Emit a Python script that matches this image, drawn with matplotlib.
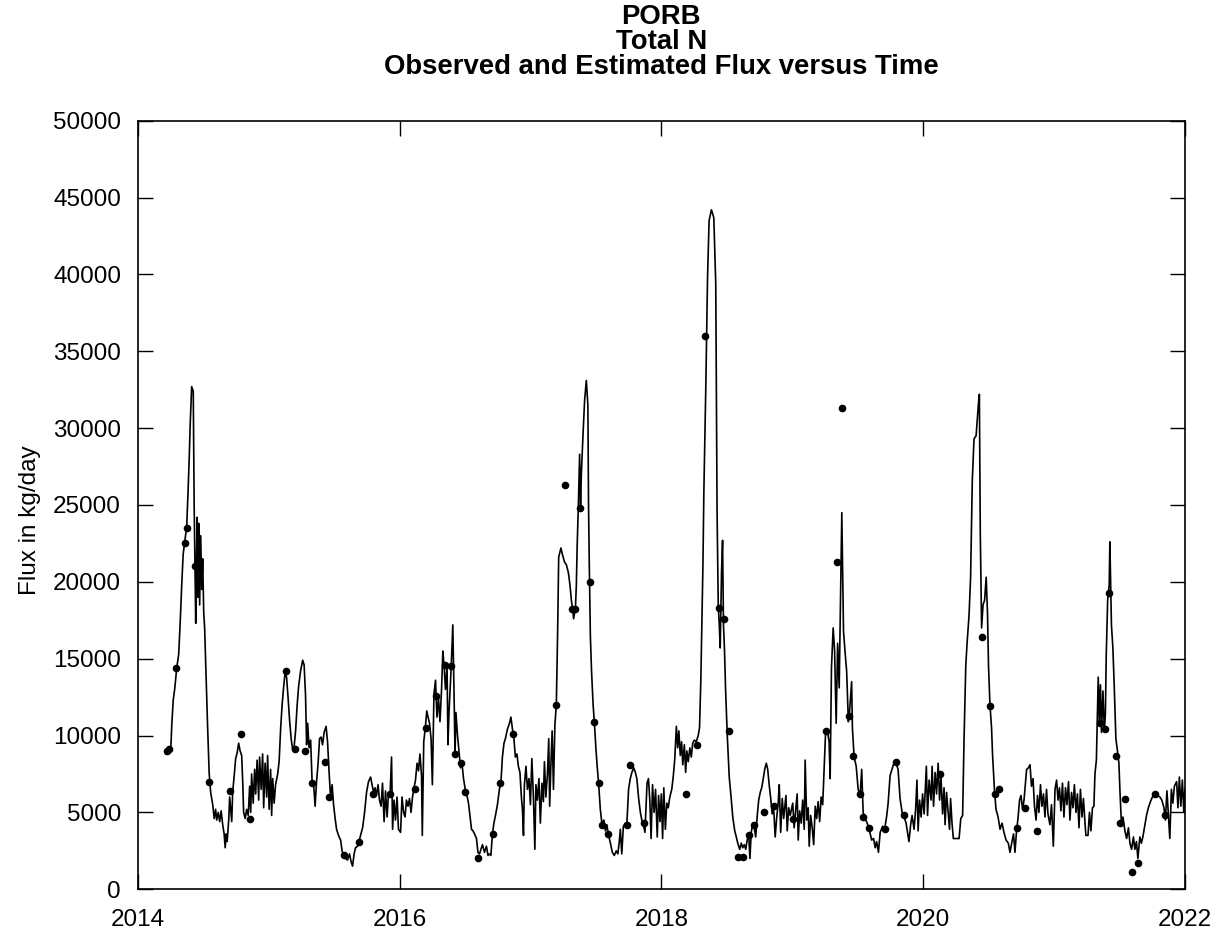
import matplotlib
matplotlib.use("Agg")
import matplotlib.pyplot as plt

plt.rcParams['font.family'] = ['Liberation Sans', 'DejaVu Sans']

# estimated daily flux (decimal year, kg/day)
est_years = [
    2014.214, 2014.229, 2014.244, 2014.252, 2014.260, 2014.271, 2014.282, 2014.298, 2014.313, 2014.324,
    2014.336, 2014.347, 2014.359, 2014.374, 2014.385, 2014.393, 2014.401, 2014.412, 2014.424, 2014.431,
    2014.437, 2014.443, 2014.448, 2014.454, 2014.460, 2014.466, 2014.473, 2014.481, 2014.489, 2014.496,
    2014.504, 2014.511, 2014.523, 2014.534, 2014.546, 2014.557, 2014.573, 2014.584, 2014.595, 2014.603,
    2014.615, 2014.626, 2014.637, 2014.649, 2014.660, 2014.668, 2014.676, 2014.683, 2014.695, 2014.702,
    2014.710, 2014.718, 2014.725, 2014.737, 2014.748, 2014.760, 2014.771, 2014.782, 2014.794, 2014.802,
    2014.809, 2014.821, 2014.832, 2014.844, 2014.855, 2014.863, 2014.870, 2014.882, 2014.893, 2014.901,
    2014.912, 2014.924, 2014.931, 2014.943, 2014.954, 2014.962, 2014.973, 2014.985, 2014.992, 2015.004,
    2015.015, 2015.023, 2015.031, 2015.042, 2015.053, 2015.069, 2015.080, 2015.092, 2015.103, 2015.115,
    2015.126, 2015.137, 2015.149, 2015.160, 2015.172, 2015.183, 2015.195, 2015.206, 2015.218, 2015.229,
    2015.244, 2015.260, 2015.271, 2015.282, 2015.290, 2015.298, 2015.309, 2015.321, 2015.332, 2015.344,
    2015.355, 2015.366, 2015.378, 2015.389, 2015.401, 2015.412, 2015.424, 2015.439, 2015.450, 2015.462,
    2015.473, 2015.485, 2015.496, 2015.508, 2015.519, 2015.534, 2015.550, 2015.561, 2015.573, 2015.588,
    2015.603, 2015.618, 2015.630, 2015.641, 2015.653, 2015.664, 2015.679, 2015.691, 2015.702, 2015.718,
    2015.733, 2015.748, 2015.763, 2015.779, 2015.790, 2015.802, 2015.813, 2015.824, 2015.836, 2015.847,
    2015.859, 2015.870, 2015.882, 2015.893, 2015.905, 2015.916, 2015.927, 2015.939, 2015.947, 2015.958,
    2015.969, 2015.981, 2015.992, 2016.008, 2016.019, 2016.031, 2016.042, 2016.053, 2016.065, 2016.076,
    2016.088, 2016.099, 2016.111, 2016.122, 2016.134, 2016.145, 2016.156, 2016.168, 2016.174, 2016.179,
    2016.185, 2016.197, 2016.208, 2016.218, 2016.229, 2016.241, 2016.251, 2016.258, 2016.263, 2016.275,
    2016.286, 2016.298, 2016.309, 2016.321, 2016.331, 2016.340, 2016.351, 2016.363, 2016.370, 2016.378,
    2016.395, 2016.407, 2016.416, 2016.424, 2016.431, 2016.443, 2016.454, 2016.466, 2016.477, 2016.489,
    2016.504, 2016.515, 2016.527, 2016.538, 2016.550, 2016.561, 2016.573, 2016.588, 2016.599, 2016.611,
    2016.622, 2016.634, 2016.649, 2016.664, 2016.676, 2016.687, 2016.698, 2016.710, 2016.721, 2016.733,
    2016.748, 2016.763, 2016.775, 2016.786, 2016.798, 2016.809, 2016.824, 2016.840, 2016.851, 2016.863,
    2016.874, 2016.885, 2016.897, 2016.908, 2016.920, 2016.931, 2016.939, 2016.947, 2016.954, 2016.966,
    2016.977, 2016.989, 2017.000, 2017.011, 2017.023, 2017.034, 2017.042, 2017.053, 2017.065, 2017.076,
    2017.088, 2017.099, 2017.107, 2017.118, 2017.130, 2017.140, 2017.147, 2017.156, 2017.166, 2017.176,
    2017.187, 2017.198, 2017.208, 2017.216, 2017.233, 2017.244, 2017.260, 2017.275, 2017.290, 2017.302,
    2017.313, 2017.324, 2017.330, 2017.344, 2017.351, 2017.357, 2017.366, 2017.376, 2017.383, 2017.389,
    2017.402, 2017.414, 2017.427, 2017.439, 2017.444, 2017.450, 2017.458, 2017.467, 2017.479, 2017.489,
    2017.500, 2017.510, 2017.521, 2017.534, 2017.547, 2017.561, 2017.573, 2017.584, 2017.595, 2017.611,
    2017.626, 2017.641, 2017.656, 2017.668, 2017.679, 2017.687, 2017.698, 2017.710, 2017.725, 2017.737,
    2017.750, 2017.763, 2017.775, 2017.789, 2017.802, 2017.813, 2017.827, 2017.840, 2017.851, 2017.863,
    2017.875, 2017.891, 2017.902, 2017.912, 2017.922, 2017.933, 2017.945, 2017.956, 2017.969, 2017.979,
    2017.990, 2018.000, 2018.010, 2018.019, 2018.031, 2018.042, 2018.053, 2018.065, 2018.080, 2018.092,
    2018.103, 2018.115, 2018.125, 2018.134, 2018.145, 2018.155, 2018.164, 2018.176, 2018.186, 2018.195,
    2018.206, 2018.218, 2018.229, 2018.240, 2018.252, 2018.267, 2018.282, 2018.292, 2018.302, 2018.318,
    2018.325, 2018.340, 2018.353, 2018.365, 2018.383, 2018.401, 2018.416, 2018.426, 2018.435, 2018.443,
    2018.450, 2018.460, 2018.468, 2018.475, 2018.483, 2018.491, 2018.504, 2018.519, 2018.532, 2018.546,
    2018.561, 2018.573, 2018.584, 2018.599, 2018.611, 2018.622, 2018.634, 2018.645, 2018.656, 2018.668,
    2018.677, 2018.687, 2018.699, 2018.710, 2018.721, 2018.733, 2018.744, 2018.756, 2018.767, 2018.779,
    2018.790, 2018.802, 2018.813, 2018.824, 2018.836, 2018.847, 2018.859, 2018.870, 2018.882, 2018.893,
    2018.901, 2018.912, 2018.924, 2018.935, 2018.952, 2018.962, 2018.973, 2018.985, 2019.004, 2019.015,
    2019.027, 2019.038, 2019.046, 2019.057, 2019.069, 2019.080, 2019.092, 2019.099, 2019.111, 2019.122,
    2019.130, 2019.141, 2019.153, 2019.164, 2019.176, 2019.187, 2019.198, 2019.210, 2019.221, 2019.233,
    2019.244, 2019.256, 2019.271, 2019.282, 2019.290, 2019.300, 2019.313, 2019.324, 2019.336, 2019.347,
    2019.359, 2019.370, 2019.379, 2019.387, 2019.392, 2019.405, 2019.416, 2019.429, 2019.437, 2019.454,
    2019.460, 2019.473, 2019.489, 2019.504, 2019.519, 2019.531, 2019.542, 2019.557, 2019.573, 2019.588,
    2019.607, 2019.622, 2019.634, 2019.645, 2019.659, 2019.672, 2019.691, 2019.706, 2019.721, 2019.733,
    2019.748, 2019.773, 2019.790, 2019.809, 2019.824, 2019.840, 2019.855, 2019.870, 2019.892, 2019.905,
    2019.916, 2019.931, 2019.943, 2019.953, 2019.962, 2019.973, 2019.985, 2019.996, 2020.008, 2020.025,
    2020.034, 2020.046, 2020.061, 2020.069, 2020.080, 2020.092, 2020.103, 2020.115, 2020.126, 2020.137,
    2020.149, 2020.160, 2020.168, 2020.179, 2020.191, 2020.202, 2020.210, 2020.221, 2020.231, 2020.244,
    2020.260, 2020.275, 2020.288, 2020.302, 2020.313, 2020.326, 2020.336, 2020.351, 2020.363, 2020.376,
    2020.389, 2020.405, 2020.422, 2020.430, 2020.437, 2020.447, 2020.458, 2020.470, 2020.482, 2020.492,
    2020.500, 2020.511, 2020.523, 2020.531, 2020.545, 2020.557, 2020.573, 2020.588, 2020.603, 2020.618,
    2020.634, 2020.651, 2020.664, 2020.679, 2020.691, 2020.702, 2020.714, 2020.725, 2020.737, 2020.748,
    2020.760, 2020.771, 2020.782, 2020.791, 2020.805, 2020.817, 2020.828, 2020.840, 2020.851, 2020.863,
    2020.874, 2020.885, 2020.897, 2020.908, 2020.920, 2020.931, 2020.943, 2020.954, 2020.969, 2020.981,
    2020.995, 2021.008, 2021.020, 2021.031, 2021.042, 2021.053, 2021.065, 2021.076, 2021.088, 2021.099,
    2021.111, 2021.122, 2021.134, 2021.145, 2021.156, 2021.168, 2021.179, 2021.191, 2021.202, 2021.214,
    2021.225, 2021.237, 2021.244, 2021.260, 2021.271, 2021.282, 2021.294, 2021.305, 2021.313, 2021.324,
    2021.338, 2021.346, 2021.355, 2021.363, 2021.374, 2021.385, 2021.393, 2021.399, 2021.410, 2021.422,
    2021.427, 2021.439, 2021.450, 2021.460, 2021.473, 2021.485, 2021.496, 2021.504, 2021.515, 2021.527,
    2021.542, 2021.555, 2021.569, 2021.580, 2021.593, 2021.607, 2021.618, 2021.630, 2021.641, 2021.656,
    2021.668, 2021.679, 2021.691, 2021.707, 2021.721, 2021.737, 2021.752, 2021.771, 2021.790, 2021.809,
    2021.824, 2021.840, 2021.851, 2021.863, 2021.874, 2021.885, 2021.897, 2021.908, 2021.920, 2021.937,
    2021.947, 2021.958, 2021.969, 2021.981, 2021.992, 2022.000,
]
est_flux = [
    8800, 9000, 9200, 9000, 10700, 12300, 13000, 14400, 15300, 17300,
    19800, 21800, 22600, 23600, 26000, 28000, 30300, 32700, 32400, 25000,
    21000, 17300, 21000, 24200, 19000, 23800, 18500, 23000, 19500, 21500,
    18000, 17000, 13500, 10500, 7500, 6300, 5500, 4600, 5200, 4500,
    5000, 4400, 5100, 4200, 3600, 2700, 3600, 3100, 4500, 6000,
    5200, 4400, 6300, 7400, 8500, 8900, 9500, 9000, 8700, 7000,
    5000, 4600, 5200, 4800, 6700, 5000, 7500, 5600, 7800, 6200,
    8400, 5800, 8600, 6500, 8800, 5300, 8200, 6000, 8700, 5200,
    7800, 4800, 7200, 5600, 6800, 7500, 8300, 10500, 12000, 13200,
    14100, 13800, 12400, 11000, 9800, 9100, 9300, 10300, 12000, 13200,
    14200, 14900, 14600, 12600, 9400, 10800, 9200, 9700, 7000, 6800,
    5400, 7000, 8200, 9800, 9900, 9400, 10200, 10600, 9600, 7600,
    6000, 6800, 5500, 4600, 3900, 3500, 3200, 2500, 2200, 2000,
    1900, 2300, 1800, 1500, 2300, 2700, 2800, 3100, 3500, 4000,
    5000, 6300, 7000, 7300, 6800, 6300, 6600, 6100, 6800, 5800,
    5400, 6900, 4400, 6400, 4700, 6300, 6000, 8600, 3900, 5800,
    4500, 6000, 3900, 3700, 6000, 5000, 4700, 5800, 5400, 5900,
    5000, 6000, 6600, 7100, 8200, 7700, 8800, 7400, 3500, 6500,
    9600, 10500, 11600, 11200, 10800, 9800, 6800, 10200, 12700, 13600,
    11200, 12400, 10900, 13000, 15500, 14600, 13000, 14500, 9400, 11500,
    14500, 17200, 13000, 8800, 11500, 10000, 9000, 7900, 8200, 7200,
    6400, 6100, 5600, 4800, 3900, 3800, 3600, 3300, 2400, 2300,
    2600, 2900, 2400, 2800, 2200, 2300, 2200, 3600, 4300, 4800,
    5500, 6500, 7000, 8600, 9500, 9800, 10400, 10800, 11200, 10400,
    9800, 8600, 8800, 8000, 7600, 6000, 5200, 3500, 6800, 8000,
    6500, 7200, 5500, 8500, 6000, 2600, 6800, 5800, 7200, 4300,
    6900, 5700, 8300, 6000, 7500, 9800, 5400, 8000, 10300, 6500,
    10700, 12000, 16800, 21600, 22200, 21800, 21300, 21100, 20600, 19800,
    18800, 18100, 17600, 18300, 19800, 22300, 24900, 28300, 25000, 27000,
    29600, 31800, 33100, 31500, 25000, 21000, 16500, 14200, 12000, 10800,
    9200, 8000, 6900, 5200, 4200, 4500, 3800, 4200, 3600, 3000,
    2400, 2200, 2500, 2300, 3100, 3900, 2300, 4100, 4300, 4300,
    6500, 7200, 7600, 7900, 7600, 7200, 5900, 5000, 4500, 4200,
    3700, 6900, 7200, 5800, 3300, 6800, 5000, 6500, 3400, 6100,
    4400, 6200, 3300, 6600, 3900, 5600, 5300, 6000, 6500, 7400,
    8500, 10600, 9200, 10300, 8700, 9600, 8100, 9400, 7600, 9000,
    8300, 9200, 8600, 9500, 9700, 9600, 10000, 10500, 13600, 21100,
    25800, 32700, 39700, 43500, 44200, 43700, 39400, 24600, 18500, 17200,
    15700, 20600, 22700, 17200, 15500, 13000, 10000, 7300, 6100, 4700,
    3800, 3400, 3000, 2600, 3000, 2700, 2900, 2600, 3200, 3500,
    2000, 3700, 4300, 4000, 3400, 4800, 5800, 6300, 6600, 7200,
    7800, 8200, 7800, 6800, 5900, 4900, 5200, 3400, 4700, 5600,
    6800, 3700, 5900, 4600, 6100, 3800, 5300, 4800, 5600, 4000,
    5200, 6200, 3200, 5100, 4300, 5800, 3900, 8400, 4500, 5300,
    2800, 4800, 4000, 2900, 5400, 4600, 5700, 4400, 6000, 5500,
    7800, 10400, 10200, 9600, 7200, 14400, 17000, 15500, 10800, 16000,
    13100, 19500, 24500, 20000, 16800, 15300, 14200, 10900, 11400, 13500,
    10500, 8600, 8000, 6500, 6100, 7800, 5000, 4600, 4300, 3900,
    3200, 3300, 2700, 3100, 2400, 3700, 4100, 3900, 4700, 5600,
    7400, 8100, 8300, 7800, 5900, 5000, 4700, 4300, 3100, 4200,
    4800, 3900, 5200, 7100, 3800, 5800, 4700, 6200, 4900, 8000,
    4800, 7100, 5800, 8000, 5400, 7600, 6200, 8200, 5800, 7300,
    4900, 6600, 4200, 6300, 5000, 3900, 5900, 4300, 3300, 3300,
    3300, 3300, 4600, 4800, 9800, 14500, 16000, 17800, 20300, 26600,
    29300, 29500, 31500, 32200, 23200, 17000, 18500, 18800, 20300, 18000,
    14500, 12000, 10500, 8700, 6500, 5200, 4700, 3900, 4300, 3700,
    3200, 3000, 2400, 3100, 3600, 2400, 3800, 4600, 5800, 6100,
    5200, 5800, 6900, 7800, 7900, 8100, 6700, 7200, 5400, 4500,
    6100, 5000, 6800, 5400, 6200, 4700, 6500, 4900, 4200, 5500,
    2800, 6500, 7100, 5800, 6600, 5100, 6900, 4700, 6600, 5500,
    7000, 4500, 6300, 5300, 6800, 5000, 6200, 4000, 6500, 4700,
    5900, 4300, 3500, 3500, 5000, 3800, 5300, 5400, 7500, 8400,
    13800, 11000, 13300, 10200, 12900, 10300, 11500, 15100, 18800, 19800,
    22600, 17200, 15700, 13300, 9800, 9000, 8200, 6400, 4300, 4700,
    3800, 3300, 4000, 3000, 2600, 3400, 2600, 3100, 2000, 3400,
    3000, 3400, 4000, 4800, 5300, 5700, 6000, 6200, 6100, 6000,
    5800, 5300, 4500, 6400, 4800, 3300, 6500, 5600, 6700, 7000,
    5300, 7300, 5400, 7100, 5000, 6500,
]

# observed (sampled) flux
obs_years = [
    2014.221, 2014.237, 2014.290, 2014.359, 2014.374, 2014.435, 2014.542, 2014.702, 2014.786, 2014.855,
    2015.130, 2015.198, 2015.275, 2015.328, 2015.427, 2015.458, 2015.573, 2015.687, 2015.794, 2015.924,
    2016.115, 2016.204, 2016.275, 2016.351, 2016.395, 2016.422, 2016.471, 2016.504, 2016.598, 2016.715,
    2016.771, 2016.865, 2017.198, 2017.262, 2017.321, 2017.344, 2017.382, 2017.453, 2017.489, 2017.521,
    2017.547, 2017.593, 2017.738, 2017.758, 2017.870, 2018.191, 2018.275, 2018.336, 2018.437, 2018.481,
    2018.514, 2018.586, 2018.624, 2018.672, 2018.710, 2018.781, 2018.863, 2019.005, 2019.260, 2019.341,
    2019.379, 2019.437, 2019.468, 2019.519, 2019.544, 2019.588, 2019.706, 2019.794, 2019.855, 2020.130,
    2020.453, 2020.511, 2020.550, 2020.582, 2020.715, 2020.779, 2020.868, 2021.351, 2021.389, 2021.422,
    2021.473, 2021.504, 2021.542, 2021.598, 2021.643, 2021.771, 2021.847,
]
obs_flux = [
    9000, 9100, 14400, 22500, 23500, 21000, 7000, 6400, 10100, 4600,
    14200, 9100, 9000, 6900, 8300, 6000, 2200, 3100, 6200, 6200,
    6500, 10500, 12600, 14600, 14500, 8800, 8200, 6300, 2000, 3600,
    6900, 10100, 12000, 26300, 18200, 18200, 24800, 20000, 10900, 6900,
    4200, 3600, 4200, 8100, 4300, 6200, 9400, 36000, 18300, 17600,
    10300, 2100, 2100, 3500, 4200, 5000, 5400, 4600, 10300, 21300,
    31300, 11300, 8700, 6200, 4700, 4000, 3900, 8300, 4800, 7500,
    16400, 11900, 6200, 6500, 4000, 5300, 3800, 10800, 10400, 19300,
    8700, 4300, 5900, 1100, 1700, 6200, 4800,
]

title_lines = ["PORB", "Total N", "Observed and Estimated Flux versus Time"]

fig = plt.figure(figsize=(12.19, 9.40), dpi=100)
ax = fig.add_axes([0.113, 0.054, 0.859, 0.8176])

ax.plot(est_years, est_flux, color='black', lw=1.2)
ax.plot(obs_years, obs_flux, 'o', color='black', ms=5.5, mew=0)

ax.set_xlim(2014, 2022)
ax.set_ylim(0, 50000)
ax.set_xticks(range(2014, 2023, 2))
ax.set_yticks(range(0, 50001, 5000))
ax.tick_params(direction='in', length=11, width=1.0, top=True, right=True,
               labelsize=17.5, colors='black')
ax.tick_params(axis='x', pad=14)
ax.tick_params(axis='y', pad=12)
for s in ax.spines.values():
    s.set_linewidth(1.2)

ax.set_ylabel("Flux in kg/day", fontsize=17.5)
ax.yaxis.set_label_coords(-0.092, 0.48)

for txt, yy in zip(title_lines, [17, 42, 67]):
    fig.text(0.5425, 1 - yy / 940, txt, ha='center', va='center',
             fontsize=19.8, fontweight='bold')

fig.savefig("out.png", dpi=100)
